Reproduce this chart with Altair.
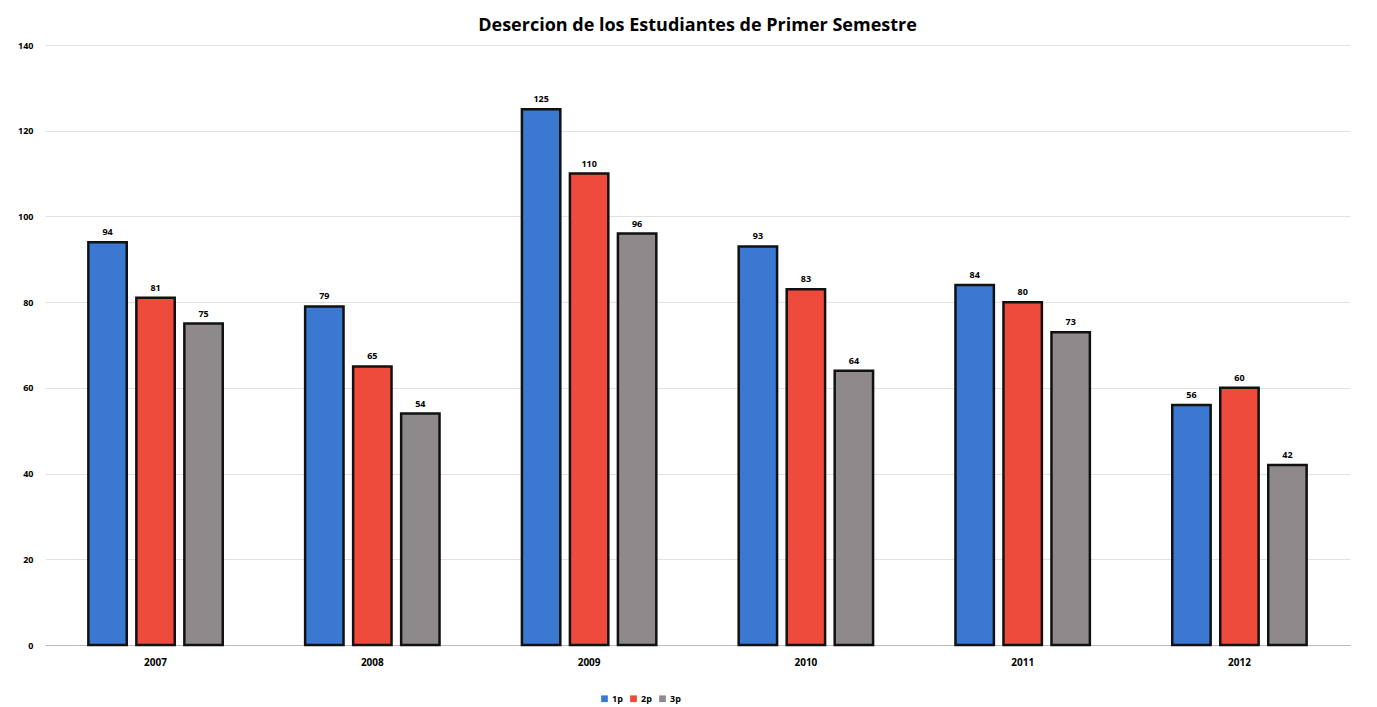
import altair as alt
import pandas as pd

years = ["2007", "2008", "2009", "2010", "2011", "2012"]
series = ["1p", "2p", "3p"]
v1p = [94, 79, 125, 93, 84, 56]
v2p = [81, 65, 110, 83, 80, 60]
v3p = [75, 54, 96, 64, 73, 42]
colors = ["#3b78d1", "#ef4b3c", "#8e8a8b"]

rows = []
for i, y in enumerate(years):
    for s, vals in zip(series, [v1p, v2p, v3p]):
        rows.append({"Año": y, "Serie": s, "Valor": vals[i]})
df = pd.DataFrame(rows)

base = alt.Chart(df).encode(
    x=alt.X("Año:N", sort=years, title=None,
            scale=alt.Scale(paddingInner=0.38, paddingOuter=0.2),
            axis=alt.Axis(labelAngle=0, labelFont="Open Sans", labelFontWeight="bold",
                          labelFontSize=10, labelColor="#000", labelPadding=12,
                          domain=True, domainColor="#bbbbbb", ticks=False, grid=False)),
    xOffset=alt.XOffset("Serie:N", sort=series, scale=alt.Scale(paddingInner=0.2)),
)

bars = base.mark_bar(stroke="#111111", strokeWidth=2.5).encode(
    y=alt.Y("Valor:Q", title=None,
            scale=alt.Scale(domain=[0, 140]),
            axis=alt.Axis(values=[0, 20, 40, 60, 80, 100, 120, 140], labelFont="Open Sans",
                          labelFontWeight="bold", labelFontSize=9, labelColor="#000",
                          labelPadding=12, domain=False, ticks=False,
                          gridColor="#e2e2e2", gridWidth=1)),
    color=alt.Color("Serie:N", sort=series,
                    scale=alt.Scale(domain=series, range=colors),
                    legend=alt.Legend(title=None, orient="none", direction="horizontal",
                                      legendX=555, legendY=649, symbolType="square",
                                      symbolSize=45, symbolStrokeWidth=0,
                                      labelFont="Open Sans", labelFontWeight="bold",
                                      labelFontSize=9, columnPadding=6, labelOffset=3)),
)

labels = base.mark_text(dy=-10, font="Open Sans", fontWeight="bold", fontSize=9,
                        color="#000").encode(
    y="Valor:Q",
    text="Valor:Q",
)

chart = (bars + labels).properties(
    width=1305,
    height=600,
    title=alt.Title("Desercion de los Estudiantes de Primer Semestre",
                    font="Open Sans", fontSize=18, fontWeight="bold", color="#000",
                    anchor="middle", offset=6),
    autosize=alt.AutoSizeParams(type="none"),
    padding={"left": 45, "top": 45, "right": 27, "bottom": 62},
).configure(background="white").configure_view(stroke=None, strokeWidth=0)

chart.save("out.html", embed_options={"renderer": "svg", "actions": False})
